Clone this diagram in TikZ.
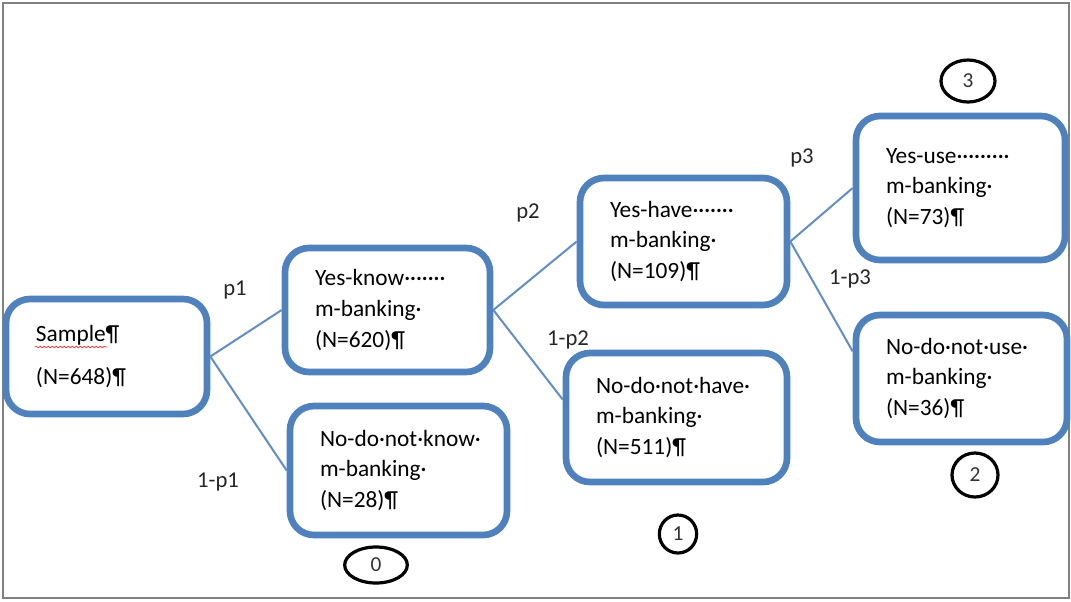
\documentclass[tikz,border=0pt]{standalone}
\usepackage{fontspec}
\setmainfont{Carlito}
\usetikzlibrary{shapes.geometric,decorations.pathmorphing}
\definecolor{boxblue}{RGB}{79,129,189}
\exhyphenpenalty=10000
\hyphenpenalty=10000

\tikzset{
  answer/.style={draw=boxblue, line width=5pt, rounded corners=18pt, align=left,
    inner sep=0pt, font=\fontsize{17.5}{23}\selectfont},
  branch/.style={draw=boxblue!90, line width=1.5pt},
  prob/.style={font=\fontsize{17}{20}\selectfont, text=black!85},
  tag/.style={draw, ellipse, line width=2.4pt, inner sep=0pt, text=black!80,
    font=\fontsize{16}{18}\selectfont},
  spell/.style={draw=red!80, line width=0.5pt, decorate,
    decoration={snake, amplitude=0.6pt, segment length=3pt}},
  frame/.style={draw=black!50, line width=1.5pt}
}

\begin{document}
\begin{tikzpicture}[x=0.75pt,y=-0.75pt]
\useasboundingbox (0,0) rectangle (1071,601);
\draw[frame] (3,3) rectangle (1069,598);

% the tree
\node[answer, minimum width=150.75pt, minimum height=86.25pt, text width=105.75pt] (sample) at (106.5,356.5) {Sample¶\\[9pt](N=648)¶};
\node[answer, minimum width=153.75pt, minimum height=93pt, text width=108.75pt] (know_yes) at (387.5,310) {Yes-know·······\\m-banking·\\(N=620)¶};
\node[answer, minimum width=162.75pt, minimum height=96.75pt, text width=117.75pt] (know_no) at (398.5,470.5) {No-do·not·know·\\m-banking·\\(N=28)¶};
\node[answer, minimum width=155.25pt, minimum height=95.25pt, text width=110.25pt] (have_yes) at (683.5,241.5) {Yes-have·······\\m-banking·\\(N=109)¶};
\node[answer, minimum width=165.75pt, minimum height=96.75pt, text width=120.75pt] (have_no) at (676.5,417.5) {No-do·not·have·\\m-banking·\\(N=511)¶};
\node[answer, minimum width=156.75pt, minimum height=108pt, text width=111.75pt] (use_yes) at (960.5,188) {Yes-use·········\\m-banking·\\(N=73)¶};
\node[answer, minimum width=158.25pt, minimum height=95.25pt, text width=113.25pt] (use_no) at (961.5,378.5) {No-do·not·use·\\m-banking·\\(N=36)¶};

\draw[spell] (35,347) -- (107,347);

\path[branch]
(sample.east) edge (know_yes.west)
(sample.east) edge (know_no.west)

(know_yes.east) edge (have_yes.west)
(know_yes.east) edge (have_no.171)

(have_yes.east) edge (use_yes.west)
(have_yes.east) edge (use_no.166)
; %end path

% probabilities
\node[prob] (l_p1) at (235,290) {p1};
\node[prob] (l_q1) at (218,482) {1-p1};
\node[prob] (l_p2) at (528,213) {p2};
\node[prob] (l_q2) at (568,340) {1-p2};
\node[prob] (l_p3) at (802,158) {p3};
\node[prob] (l_q3) at (850,279) {1-p3};

% end states
\node[tag, minimum width=47pt, minimum height=27pt] (c_0) at (376,565) {0};
\node[tag, minimum width=28pt, minimum height=28.5pt] (c_1) at (678,534) {1};
\node[tag, minimum width=34.5pt, minimum height=33pt] (c_2) at (975,475) {2};
\node[tag, minimum width=40.5pt, minimum height=31.5pt] (c_3) at (968,81) {3};
\end{tikzpicture}
\end{document}
